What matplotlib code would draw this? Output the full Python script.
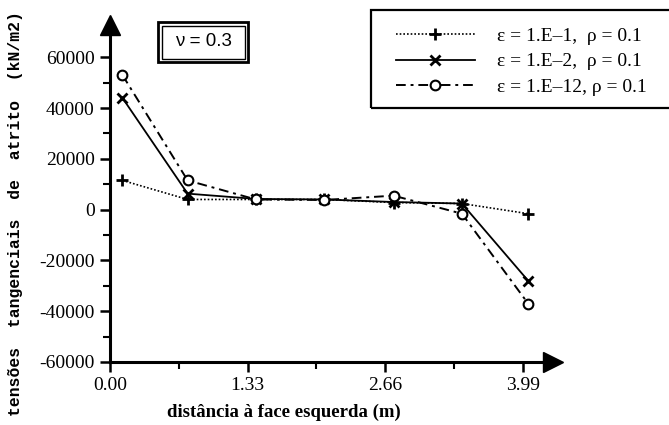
import matplotlib
matplotlib.use("Agg")
import matplotlib.pyplot as plt
from matplotlib.patches import Rectangle
from matplotlib.ticker import MultipleLocator

# =========================
# DATA
# =========================
dist = [0.12, 0.75, 1.41, 2.07, 2.74, 3.40, 4.04]
eps_1e1 = [11500, 4000, 4000, 4000, 2800, 2400, -1600]
eps_1e2 = [44000, 6300, 4200, 4000, 3000, 2400, -28000]
eps_1e12 = [53000, 11500, 4000, 3800, 5500, -1600, -37000]

labels = ["ε = 1.E–1,  ρ = 0.1", "ε = 1.E–2,  ρ = 0.1", "ε = 1.E–12, ρ = 0.1"]
xticks = [0.0, 1.33, 2.66, 3.99]
yticks = [-60000, -40000, -20000, 0, 20000, 40000, 60000]

# =========================
# FIGURE
# =========================
W, H = 669, 425
fig = plt.figure(figsize=(W / 100, H / 100), dpi=100)
ax = fig.add_axes([110 / W, 1 - 362 / H, 443 / W, 337 / H])

serif = "Liberation Serif"

ax.plot(dist, eps_1e1, color="black", linestyle=(0, (1, 1.2)), lw=1.2,
        marker="+", ms=9, mew=2, label=labels[0], clip_on=False)
ax.plot(dist, eps_1e2, color="black", linestyle="-", lw=1.3,
        marker="x", ms=7, mew=2, label=labels[1], clip_on=False)
ax.plot(dist, eps_1e12, color="black", linestyle=(0, (5, 2.5, 1.5, 2.5)), lw=1.4,
        marker="o", ms=7, mew=1.5, mfc="white", label=labels[2], clip_on=False)

ax.set_xlim(0, 4.28)
ax.set_ylim(-60000, 72700)

for s in ["top", "right"]:
    ax.spines[s].set_visible(False)
for s in ["left", "bottom"]:
    ax.spines[s].set_linewidth(2.2)

# arrows on the axes
ax.plot(1, 0, ">k", ms=14, transform=ax.transAxes, clip_on=False)
ax.plot(0, 1, "^k", ms=14, transform=ax.transAxes, clip_on=False)

ax.set_xticks(xticks)
ax.set_xticklabels([f"{v:.2f}" for v in xticks], fontfamily=serif, fontsize=14)
ax.xaxis.set_minor_locator(MultipleLocator(0.665))
ax.set_yticks(yticks)
ax.set_yticklabels([str(v) for v in yticks], fontfamily=serif, fontsize=14)
ax.yaxis.set_minor_locator(MultipleLocator(10000))
ax.tick_params(axis="both", which="major", length=7, width=1.8, direction="out", pad=4)
ax.tick_params(axis="both", which="minor", length=5, width=1.5, direction="out")

ax.set_xlabel("distância à face esquerda (m)", fontfamily=serif,
              fontweight="bold", fontsize=13.5, labelpad=7)
ax.xaxis.label.set_x(0.393)
fig.text(16 / W, 1 - 214 / H, "tensões  tangenciais  de  atrito  (kN/m2)",
         rotation=90, ha="center", va="center", fontfamily="Liberation Mono",
         fontweight="bold", fontsize=11.8)

# nu box (double frame)
fig.add_artist(Rectangle((158 / W, 1 - 62 / H), 90 / W, 40 / H,
                         transform=fig.transFigure, fill=False, lw=2, color="black"))
fig.add_artist(Rectangle((162 / W, 1 - 58.5 / H), 82.5 / W, 33 / H,
                         transform=fig.transFigure, fill=False, lw=1, color="black"))
fig.text(203 / W, 1 - 41 / H, "ν = 0.3", ha="center", va="center",
         fontfamily="Liberation Sans", fontsize=13.5)

# legend box
fig.add_artist(Rectangle((371 / W, 1 - 108 / H), 320 / W, 98 / H,
                         transform=fig.transFigure, fill=False, lw=1.6, color="black"))
leg = fig.legend(loc="upper left", bbox_to_anchor=(378 / W, 1 - 10 / H),
                 frameon=False, handlelength=4.1, handletextpad=1.1,
                 labelspacing=0.4, prop={"family": serif, "size": 14})

plt.savefig("out.png", dpi=100)
plt.close()
